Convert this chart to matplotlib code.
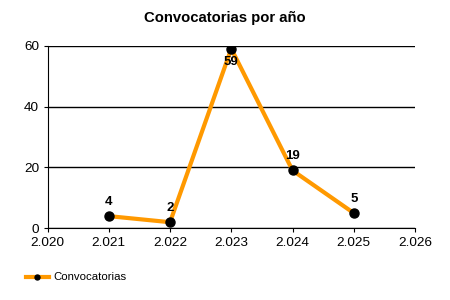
import matplotlib
matplotlib.use("Agg")
import matplotlib.pyplot as plt

years = [2021, 2022, 2023, 2024, 2025]
values = [4, 2, 59, 19, 5]
label_pos = ["above", "above", "below", "above", "above"]
xticks = [2020, 2021, 2022, 2023, 2024, 2025, 2026]
xtick_labels = ["2.020", "2.021", "2.022", "2.023", "2.024", "2.025", "2.026"]
yticks = [0, 20, 40, 60]

plt.rcParams['font.family'] = ['Liberation Sans', 'DejaVu Sans']

fig = plt.figure(figsize=(4.5, 3), dpi=100)
ax = fig.add_axes([0.1056, 0.239, 0.8167, 0.609])

ax.plot(years, values, color='#FF9900', linewidth=3, marker='o',
        markersize=6.5, markerfacecolor='black', markeredgecolor='black',
        label='Convocatorias', zorder=3, solid_joinstyle='miter')

for x, v, p in zip(years, values, label_pos):
    if p == "above":
        ax.annotate(str(v), (x, v), xytext=(0, 6), textcoords='offset points',
                    ha='center', va='bottom', fontsize=9.5, fontweight='bold')
    else:
        ax.annotate(str(v), (x, v), xytext=(0, -5), textcoords='offset points',
                    ha='center', va='top', fontsize=9.5, fontweight='bold')

ax.set_xlim(2020, 2026)
ax.set_ylim(0, 60)
ax.set_xticks(xticks)
ax.set_xticklabels(xtick_labels)
ax.set_yticks(yticks)
ax.tick_params(axis='both', labelsize=9.7, length=3, color='black', pad=3)
ax.yaxis.grid(True, color='black', linewidth=1)
ax.set_axisbelow(True)
for s in ['top', 'right']:
    ax.spines[s].set_visible(False)
ax.spines['left'].set_color('black')
ax.spines['bottom'].set_color('black')

fig.text(0.5, 0.94, 'Convocatorias por año', ha='center', va='center',
         fontsize=10.7, fontweight='bold')

handles, labels = ax.get_legend_handles_labels()
fig.legend(handles, labels, loc='center left', bbox_to_anchor=(0.035, 0.075),
           frameon=False, fontsize=8.2, handlelength=2.0, markerscale=0.55,
           handletextpad=0.4)

fig.savefig('out.png', dpi=100)
